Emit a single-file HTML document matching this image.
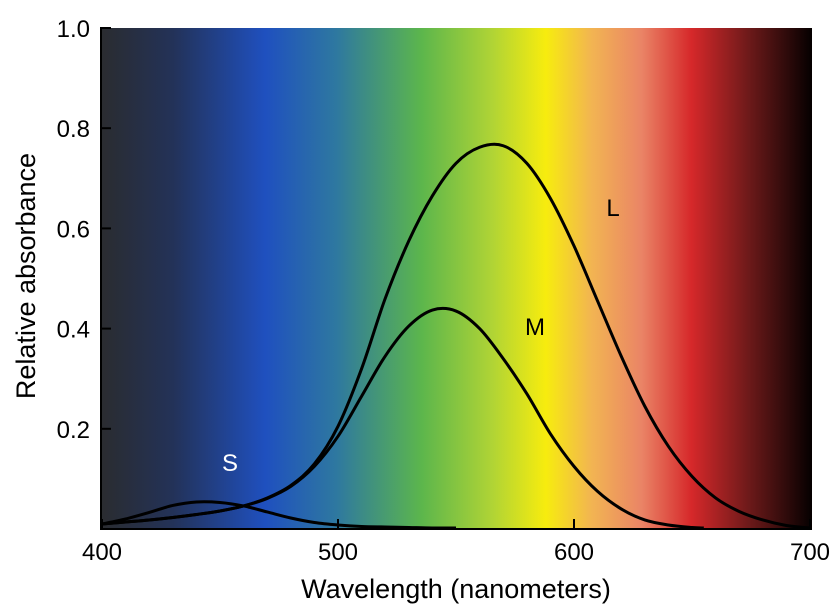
<!DOCTYPE html>
<html><head><meta charset="utf-8"><style>
body{margin:0;background:#fff}
svg{display:block;font-family:"Liberation Sans",sans-serif}
</style></head><body>
<svg id="chart" width="838" height="609" viewBox="0 0 838 609">
<defs>
<linearGradient id="spec" x1="0" x2="1" y1="0" y2="0">
<stop offset="0" stop-color="#2a2c30"/>
<stop offset="0.1" stop-color="#233258"/>
<stop offset="0.23" stop-color="#1f50bf"/>
<stop offset="0.33" stop-color="#2e78a0"/>
<stop offset="0.45" stop-color="#5cb64c"/>
<stop offset="0.55" stop-color="#b0d435"/>
<stop offset="0.625" stop-color="#f7ec0e"/>
<stop offset="0.69" stop-color="#f2b452"/>
<stop offset="0.76" stop-color="#ea8466"/>
<stop offset="0.83" stop-color="#d6282a"/>
<stop offset="0.91" stop-color="#6e1a1a"/>
<stop offset="1" stop-color="#050000"/>
</linearGradient>
</defs>
<rect x="102" y="28" width="710" height="501" fill="url(#spec)"/>
<g id="curves"></g>
<g id="axes"></g>
<text x="230" y="471" fill="#fff" font-size="24" text-anchor="middle">S</text>
<text x="535" y="335" fill="#000" font-size="24" text-anchor="middle">M</text>
<text x="613" y="216" fill="#000" font-size="24" text-anchor="middle">L</text>
<text x="456" y="598" font-size="27" text-anchor="middle">Wavelength (nanometers)</text>
<text transform="translate(35,276) rotate(-90)" font-size="27" text-anchor="middle">Relative absorbance</text>
</svg>
<script>
const lWave=[400,410,420,430,440,450,460,470,480,490,500,510,520,530,540,550,560,570,580,590,600,610,620,630,640,650,660,670,680,690,700];
const lVals=[0.01,0.014,0.018,0.023,0.029,0.036,0.046,0.062,0.087,0.13,0.205,0.32,0.46,0.575,0.665,0.73,0.762,0.765,0.73,0.66,0.565,0.455,0.345,0.245,0.165,0.105,0.062,0.035,0.018,0.007,0.002];
const mWave=[400,410,420,430,440,450,460,470,480,490,500,510,520,530,540,550,560,570,580,590,600,610,620,630,640,650,655];
const mVals=[0.01,0.014,0.018,0.023,0.029,0.036,0.046,0.061,0.085,0.125,0.185,0.265,0.345,0.405,0.437,0.435,0.4,0.34,0.27,0.19,0.125,0.075,0.04,0.018,0.008,0.003,0.002];
const sWave=[400,410,420,430,440,450,460,470,480,490,500,510,520,530,540,550];
const sVals=[0.01,0.02,0.033,0.047,0.054,0.053,0.046,0.034,0.022,0.013,0.008,0.005,0.004,0.003,0.002,0.002];
const xTicks=[400,500,600,700];
const xTickLabels=["400","500","600","700"];
const yTicks=[0.2,0.4,0.6,0.8,1.0];
const yTickLabels=["0.2","0.4","0.6","0.8","1.0"];
const NS="http://www.w3.org/2000/svg";
const X=w=>102+(w-400)/300*708;
const Y=v=>529-v*501;
function pathFor(ws,vs){
  const p=ws.map((w,i)=>[X(w),Y(vs[i])]);
  let d="M"+p[0][0]+","+p[0][1];
  for(let i=0;i<p.length-1;i++){
    const p0=p[i-1]||p[i],p1=p[i],p2=p[i+1],p3=p[i+2]||p2;
    const c1=[p1[0]+(p2[0]-p0[0])/6,p1[1]+(p2[1]-p0[1])/6];
    const c2=[p2[0]-(p3[0]-p1[0])/6,p2[1]-(p3[1]-p1[1])/6];
    d+=` C${c1[0]},${c1[1]} ${c2[0]},${c2[1]} ${p2[0]},${p2[1]}`;
  }
  return d;
}
const cg=document.getElementById('curves');
[["l-curve",lWave,lVals],["m-curve",mWave,mVals],["s-curve",sWave,sVals]].forEach(([n,w,v])=>{
  const el=document.createElementNS(NS,'path');
  el.setAttribute('d',pathFor(w,v));
  el.setAttribute('fill','none');el.setAttribute('stroke','#000');el.setAttribute('stroke-width','3');
  el.setAttribute('stroke-linejoin','round');
  
  
  cg.appendChild(el);
});
const ag=document.getElementById('axes');
function mk(tag,attrs,txt){const e=document.createElementNS(NS,tag);for(const k in attrs)e.setAttribute(k,attrs[k]);if(txt)e.textContent=txt;ag.appendChild(e);return e;}
const xa=mk('line',{x1:101,y1:529,x2:812,y2:529,stroke:'#000','stroke-width':2});


const ya=mk('line',{x1:101,y1:27,x2:101,y2:530,stroke:'#000','stroke-width':2});


xTicks.forEach((t,i)=>{
  const tk=mk('line',{x1:X(t),y1:529,x2:X(t),y2:519,stroke:'#000','stroke-width':2});
  
  
  const lb=mk('text',{x:X(t),y:560,'font-size':24,'text-anchor':'middle'},xTickLabels[i]);
  
  
});
yTicks.forEach((t,i)=>{
  const tk=mk('line',{x1:101,y1:Y(t),x2:111,y2:Y(t),stroke:'#000','stroke-width':2});
  
  
  const lb=mk('text',{x:90,y:Y(t)+9,'font-size':24,'text-anchor':'end'},yTickLabels[i]);
  
  
});
</script>
</body></html>
